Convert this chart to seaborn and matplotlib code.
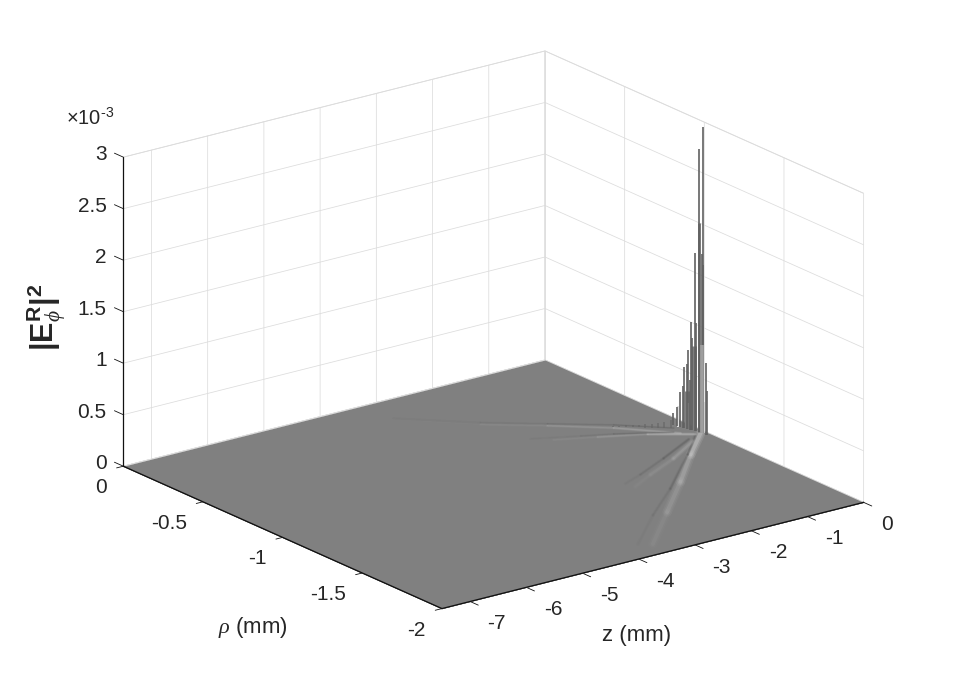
import numpy as np
import matplotlib
matplotlib.use("Agg")
import matplotlib.pyplot as plt
from matplotlib.transforms import Affine2D
import seaborn as sns

# ---- data ----
z_edges = [-7.5, 0.0]
rho_edges = [-2.0, 0.0]
floor_level = [[0.0, 0.0], [0.0, 0.0]]

z_ticks = [-7, -6, -5, -4, -3, -2, -1, 0]
z_tick_labels = ["-7", "-6", "-5", "-4", "-3", "-2", "-1", "0"]
rho_ticks = [-2, -1.5, -1, -0.5, 0]
rho_tick_labels = ["-2", "-1.5", "-1", "-0.5", "0"]
e_ticks = [0, 0.0005, 0.001, 0.0015, 0.002, 0.0025, 0.003]
e_tick_labels = ["0", "0.5", "1", "1.5", "2", "2.5", "3"]

# broad body of the peak
body_z = [-0.119, -0.147, -0.088, -0.183, -0.135, -0.066]
body_rho = [-0.976, -0.942, -0.996, -0.900, -0.944, -1.015]
body_h = [0.00083, 0.00037, 0.00203, 0.00020, 0.00025, 0.00030]
body_gray = [0.50, 0.50, 0.42, 0.88, 0.85, 0.80]
body_lw = [3.6, 3.6, 2.0, 1.4, 1.4, 2.6]

# thin spikes
spike_z = [-0.072, -0.088, -0.108, -0.128, -0.135, -0.155, -0.174, -0.183, -0.203,
           -0.083, -0.066, -0.086, -0.075, -0.097, -0.122, -0.141, -0.131, -0.159]
spike_rho = [-1.014, -0.996, -0.978, -0.960, -0.944, -0.926, -0.908, -0.892, -0.873,
             -1.012, -1.016, -1.040, -1.041, -0.980, -0.965, -0.940, -0.955, -0.920]
spike_h = [2.97e-3, 2.75e-3, 1.73e-3, 1.05e-3, 0.77e-3, 0.59e-3, 0.34e-3, 0.185e-3, 0.117e-3,
           1.74e-3, 1.63e-3, 0.70e-3, 0.43e-3, 1.05e-3, 0.90e-3, 0.63e-3, 0.48e-3, 0.41e-3]

# pale column at the foot of the main peak
column_z = [-0.075]
column_rho = [-1.010]
column_h = [0.00085]
column_gray = [0.62]
column_lw = [2.6]

# small bumps along the left-going ridge
bump_z = [-0.947, -0.872, -0.797, -0.722, -0.647, -0.581, -0.506, -0.431, -0.366, -0.291]
bump_rho = [-0.759, -0.774, -0.789, -0.804, -0.818, -0.833, -0.848, -0.863, -0.877, -0.892]
bump_h = [1.5e-5, 1.5e-5, 2e-5, 2e-5, 2.5e-5, 3e-5, 3e-5, 4e-5, 5e-5, 7e-5]

# fading ridges on the floor: z, rho, gray, alpha per vertex, line width
r1_light = ([-0.084, -0.747, -1.558, -2.481, -3.458], [-1.007, -1.178, -1.40, -1.642, -1.897],
            0.82, [0.85, 0.50, 0.30, 0.18, 0.04], 7.0)
r1_dark = ([-0.173, -0.781, -1.853, -2.717, -3.636], [-1.008, -1.171, -1.44, -1.637, -1.866],
           0.30, [0.70, 0.50, 0.22, 0.10, 0.02], 2.6)
r2_light = ([-0.389, -1.043, -1.718, -2.198], [-1.064, -1.175, -1.268, -1.342],
            0.78, [0.45, 0.26, 0.10, 0.03], 4.0)
r2_dark = ([-0.383, -1.157, -1.831, -2.233], [-1.037, -1.152, -1.245, -1.292],
           0.30, [0.55, 0.30, 0.12, 0.03], 2.4)
l1_light = ([-0.318, -0.949, -1.645, -2.378, -2.948], [-0.964, -0.766, -0.596, -0.434, -0.276],
            0.75, [0.60, 0.40, 0.20, 0.08, 0.02], 2.2)
l1_dark = ([-0.268, -0.871, -1.594, -2.327, -3.21], [-0.903, -0.738, -0.578, -0.416, -0.18],
           0.33, [0.50, 0.35, 0.20, 0.10, 0.02], 1.5)
l2_light = ([-0.173, -0.718, -1.362, -1.939], [-1.008, -0.898, -0.811, -0.737],
            0.80, [0.85, 0.35, 0.14, 0.03], 2.4)
l2_dark = ([-0.371, -1.103, -1.529, -2.174], [-0.939, -0.82, -0.763, -0.675],
           0.33, [0.50, 0.28, 0.12, 0.03], 1.5)
ridges = [r1_light, r1_dark, r2_light, r2_dark, l1_light, l1_dark, l2_light, l2_dark]

# ---- style ----
sns.set_theme(style="white")
plt.rcParams["font.family"] = ["Liberation Sans", "DejaVu Sans"]
plt.rcParams["mathtext.fontset"] = "custom"
plt.rcParams["mathtext.rm"] = "Liberation Sans"
plt.rcParams["mathtext.it"] = "Liberation Serif:italic"
plt.rcParams["mathtext.bf"] = "Liberation Sans:bold"

TXT = "#262626"
GRID = "#dcdcdc"

fig = plt.figure(figsize=(9.56, 6.84), dpi=100)
side = 680
ax = fig.add_axes([144.3 / 956, 5.05 / 684, side / 956, side / 684],
                  projection="3d", proj_type="ortho", computed_zorder=False)
ax.set_facecolor("none")
ax.view_init(elev=19.6, azim=-126.9)
ax.set_box_aspect((525.6, 529, 327), zoom=793 / side)
ax.set_xlim(-7.5, 0, view_margin=0)
ax.set_ylim(-2, 0, view_margin=0)
ax.set_zlim(0, 0.003, view_margin=0)

# floor
Zg, Rg = np.meshgrid(z_edges, rho_edges)
floor = ax.plot_surface(Zg, Rg, np.array(floor_level), color="#808080", shade=False,
                        antialiased=False, linewidth=0, zorder=1)
floor.set_clip_on(False)

# front edges of the floor stay black above the surface
ax.plot([z_edges[0], z_edges[0]], rho_edges, [0, 0], color="#111111", lw=0.9, zorder=2,
        clip_on=False)
ax.plot(z_edges, [rho_edges[0], rho_edges[0]], [0, 0], color="#111111", lw=0.9, zorder=2,
        clip_on=False)

# ridges
for zs, rs, g, alphas, w in ridges:
    for i in range(len(zs) - 1):
        a = 0.5 * (alphas[i] + alphas[i + 1])
        for f, fa in ((1.0, 0.22), (0.7, 0.3), (0.4, 0.5)):
            ax.plot(zs[i:i + 2], rs[i:i + 2], [0, 0], color=str(g), alpha=a * fa,
                    lw=w * f, solid_capstyle="round", zorder=2)

# bumps
for z0, r0, h in zip(bump_z, bump_rho, bump_h):
    ax.plot([z0, z0], [r0, r0], [0, h], color="0.4", alpha=0.8, lw=1.1,
            solid_capstyle="butt", zorder=3)

# peak body and spikes
for z0, r0, h, g, w in zip(body_z, body_rho, body_h, body_gray, body_lw):
    ax.plot([z0, z0], [r0, r0], [0, h], color=str(g), lw=w, solid_capstyle="butt", zorder=3)
for z0, r0, h in zip(spike_z, spike_rho, spike_h):
    ax.plot([z0, z0], [r0, r0], [0, h], color="0.38", lw=1.2, solid_capstyle="butt", zorder=4)
for z0, r0, h, g, w in zip(column_z, column_rho, column_h, column_gray, column_lw):
    ax.plot([z0, z0], [r0, r0], [0, h], color=str(g), lw=w, solid_capstyle="butt", zorder=5)

# axes
ax.set_xticks(z_ticks, z_tick_labels)
ax.set_yticks(rho_ticks, rho_tick_labels)
ax.set_zticks(e_ticks, e_tick_labels)
for axis in (ax.xaxis, ax.yaxis, ax.zaxis):
    axis.set_pane_color((1, 1, 1, 1))
    axis.pane.set_edgecolor(GRID)
    axis.pane.set_linewidth(0.6)
    axis.line.set_color("#111111")
    axis.line.set_linewidth(0.9)
    axis._axinfo["grid"].update(color=GRID, linewidth=0.55, linestyle="-")
    axis._axinfo["tick"]["linewidth"][True] = 0.6
ax.xaxis._axinfo["tick"].update(inward_factor=0.32, outward_factor=0.0)
ax.yaxis._axinfo["tick"].update(inward_factor=0.2, outward_factor=0.0)
ax.zaxis._axinfo["tick"].update(inward_factor=0.0, outward_factor=0.35)
ax.zaxis._get_tickdir = lambda pos: 1


def nudge(text, dx, dy):
    """Shift a 3D axis text by pixels (the axis resets its transform at draw time)."""
    shifted = ax.transData + Affine2D().translate(dx, dy)
    text.get_transform = lambda: shifted


ax.tick_params(axis="x", labelsize=15, labelcolor=TXT, pad=2, color="#111111")
ax.tick_params(axis="y", labelsize=15, labelcolor=TXT, pad=1.2, color="#111111")
ax.tick_params(axis="z", labelsize=15, labelcolor=TXT, pad=-2.2, color="#111111")
for t in ax.xaxis.get_ticklabels():
    t.set_ha("left")
    nudge(t, 5, 5)
for t in ax.yaxis.get_ticklabels():
    t.set_ha("right")
    nudge(t, -1, 3)
for t in ax.zaxis.get_ticklabels():
    t.set_ha("right")
    t.set_va("baseline")
    nudge(t, 0, -4)
ax.grid(True)
ax.zaxis.set_rotate_label(False)
ax.set_zlabel(r"$\mathbf{|E}^{\mathbf{R}}_{\mathit{\phi}}\mathbf{|}^{\mathbf{2}}$", fontsize=22,
              color=TXT, rotation=90, labelpad=7.7)
nudge(ax.zaxis.label, 6, -9.5)
fig.text(637 / 956, 1 - 635 / 684, "z (mm)", fontsize=16, color=TXT, ha="center", va="center")
fig.text(253 / 956, 1 - 628 / 684, r"$\mathit{\rho}$ (mm)", fontsize=16, color=TXT,
         ha="center", va="center")
fig.text(66 / 956, 1 - 125 / 684, r"$\times$10$^{\text{-}3}$", fontsize=14.5, color=TXT)

fig.savefig("out.png", dpi=100)
